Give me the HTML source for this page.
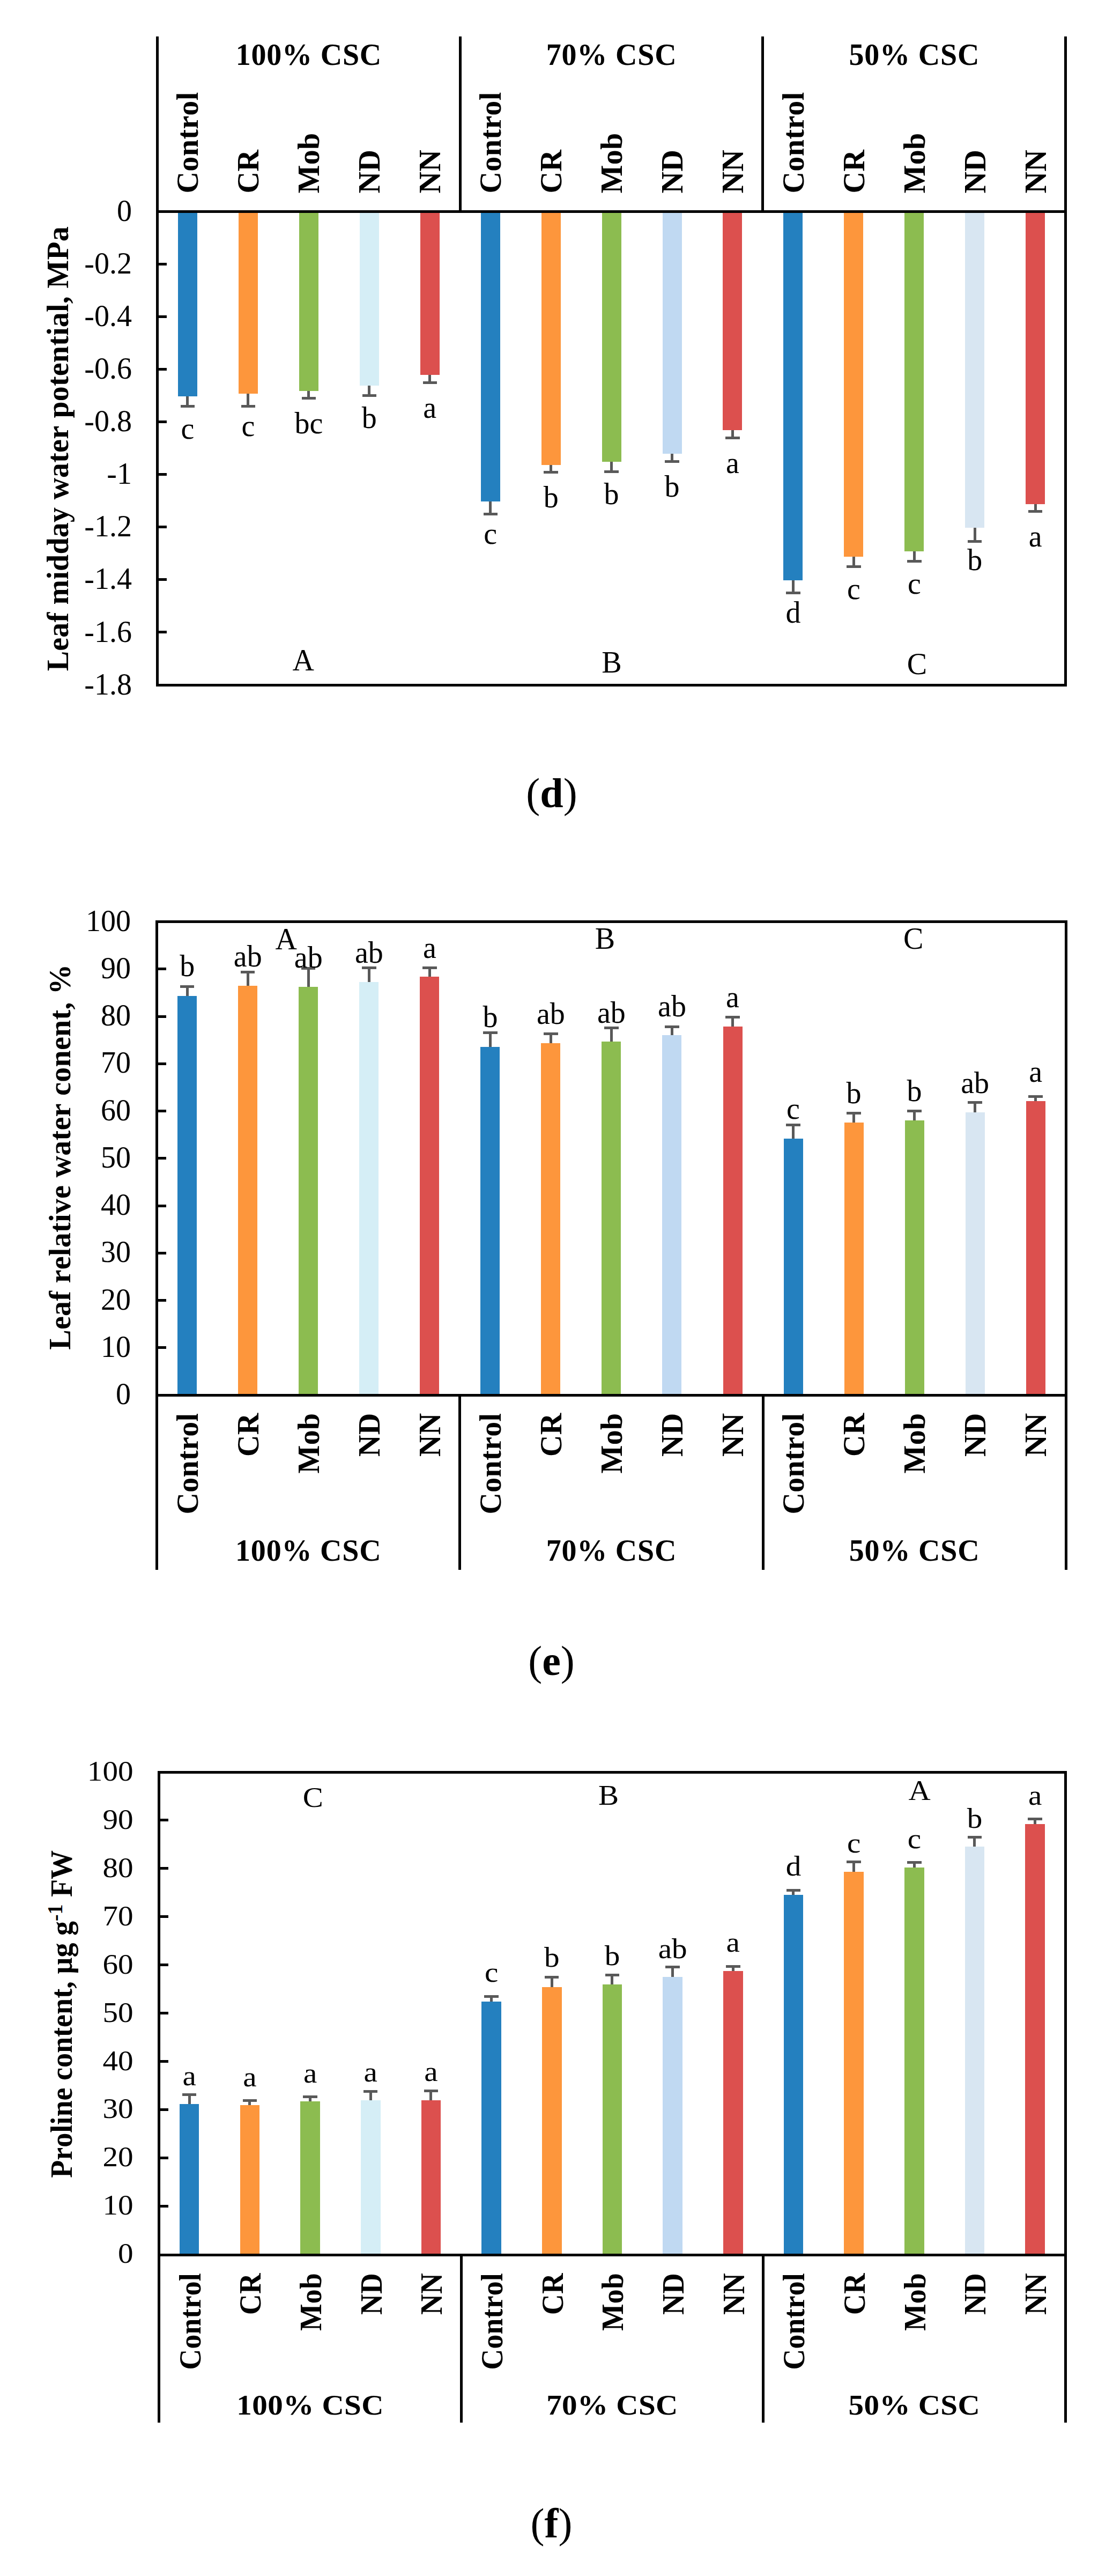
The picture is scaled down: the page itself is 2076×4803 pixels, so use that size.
<!DOCTYPE html>
<html lang="en">
<head>
<meta charset="utf-8">
<title>Figure panels d-f</title>
<style>
html,body{margin:0;padding:0;background:#fff;}
body{width:2076px;height:4803px;overflow:hidden;}
svg{display:block;}
svg line,svg rect{shape-rendering:crispEdges;}
svg text{font-kerning:none;font-variant-ligatures:none;font-family:"Liberation Serif",serif;fill:#000;}
</style>
</head>
<body>
<svg width="2076" height="4803" viewBox="0 0 2076 4803">
<rect x="0" y="0" width="2076" height="4803" fill="#ffffff"/>
<g>
<rect x="331.97" y="394.5" width="36" height="344.09" fill="#2480BF"/>
<line x1="349.97" y1="738.59" x2="349.97" y2="757.31" stroke="#595959" stroke-width="5" stroke-linecap="butt"/>
<line x1="336.77" y1="757.31" x2="363.17" y2="757.31" stroke="#595959" stroke-width="5" stroke-linecap="butt"/>
<text x="349.97" y="817.89" text-anchor="middle" font-size="56">c</text>
<rect x="444.92" y="394.5" width="36" height="339.19" fill="#FD963C"/>
<line x1="462.92" y1="733.69" x2="462.92" y2="757.31" stroke="#595959" stroke-width="5" stroke-linecap="butt"/>
<line x1="449.72" y1="757.31" x2="476.12" y2="757.31" stroke="#595959" stroke-width="5" stroke-linecap="butt"/>
<text x="462.92" y="812.99" text-anchor="middle" font-size="56">c</text>
<rect x="557.87" y="394.5" width="36" height="334.29" fill="#8CBC50"/>
<line x1="575.87" y1="728.79" x2="575.87" y2="742.6" stroke="#595959" stroke-width="5" stroke-linecap="butt"/>
<line x1="562.67" y1="742.6" x2="589.07" y2="742.6" stroke="#595959" stroke-width="5" stroke-linecap="butt"/>
<text x="575.87" y="808.09" text-anchor="middle" font-size="56">bc</text>
<rect x="670.81" y="394.5" width="36" height="324.48" fill="#D5EEF6"/>
<line x1="688.81" y1="718.98" x2="688.81" y2="737.69" stroke="#595959" stroke-width="5" stroke-linecap="butt"/>
<line x1="675.61" y1="737.69" x2="702.01" y2="737.69" stroke="#595959" stroke-width="5" stroke-linecap="butt"/>
<text x="688.81" y="798.28" text-anchor="middle" font-size="56">b</text>
<rect x="783.76" y="394.5" width="36" height="304.87" fill="#DC504E"/>
<line x1="801.76" y1="699.37" x2="801.76" y2="713.18" stroke="#595959" stroke-width="5" stroke-linecap="butt"/>
<line x1="788.56" y1="713.18" x2="814.96" y2="713.18" stroke="#595959" stroke-width="5" stroke-linecap="butt"/>
<text x="801.76" y="778.67" text-anchor="middle" font-size="56">a</text>
<rect x="896.71" y="394.5" width="36" height="540.21" fill="#2480BF"/>
<line x1="914.71" y1="934.71" x2="914.71" y2="958.32" stroke="#595959" stroke-width="5" stroke-linecap="butt"/>
<line x1="901.51" y1="958.32" x2="927.91" y2="958.32" stroke="#595959" stroke-width="5" stroke-linecap="butt"/>
<text x="914.71" y="1014.01" text-anchor="middle" font-size="56">c</text>
<rect x="1009.65" y="394.5" width="36" height="472.55" fill="#FD963C"/>
<line x1="1027.65" y1="867.05" x2="1027.65" y2="880.86" stroke="#595959" stroke-width="5" stroke-linecap="butt"/>
<line x1="1014.45" y1="880.86" x2="1040.85" y2="880.86" stroke="#595959" stroke-width="5" stroke-linecap="butt"/>
<text x="1027.65" y="946.35" text-anchor="middle" font-size="56">b</text>
<rect x="1122.6" y="394.5" width="36" height="466.66" fill="#8CBC50"/>
<line x1="1140.6" y1="861.16" x2="1140.6" y2="879.88" stroke="#595959" stroke-width="5" stroke-linecap="butt"/>
<line x1="1127.4" y1="879.88" x2="1153.8" y2="879.88" stroke="#595959" stroke-width="5" stroke-linecap="butt"/>
<text x="1140.6" y="940.46" text-anchor="middle" font-size="56">b</text>
<rect x="1235.55" y="394.5" width="36" height="451.96" fill="#C0D9F2"/>
<line x1="1253.55" y1="846.46" x2="1253.55" y2="860.26" stroke="#595959" stroke-width="5" stroke-linecap="butt"/>
<line x1="1240.35" y1="860.26" x2="1266.75" y2="860.26" stroke="#595959" stroke-width="5" stroke-linecap="butt"/>
<text x="1253.55" y="925.76" text-anchor="middle" font-size="56">b</text>
<rect x="1348.49" y="394.5" width="36" height="407.83" fill="#DC504E"/>
<line x1="1366.49" y1="802.33" x2="1366.49" y2="816.14" stroke="#595959" stroke-width="5" stroke-linecap="butt"/>
<line x1="1353.29" y1="816.14" x2="1379.69" y2="816.14" stroke="#595959" stroke-width="5" stroke-linecap="butt"/>
<text x="1366.49" y="881.63" text-anchor="middle" font-size="56">a</text>
<rect x="1461.44" y="394.5" width="36" height="687.29" fill="#2480BF"/>
<line x1="1479.44" y1="1081.79" x2="1479.44" y2="1105.4" stroke="#595959" stroke-width="5" stroke-linecap="butt"/>
<line x1="1466.24" y1="1105.4" x2="1492.64" y2="1105.4" stroke="#595959" stroke-width="5" stroke-linecap="butt"/>
<text x="1479.44" y="1161.09" text-anchor="middle" font-size="56">d</text>
<rect x="1574.39" y="394.5" width="36" height="643.16" fill="#FD963C"/>
<line x1="1592.39" y1="1037.66" x2="1592.39" y2="1056.38" stroke="#595959" stroke-width="5" stroke-linecap="butt"/>
<line x1="1579.19" y1="1056.38" x2="1605.59" y2="1056.38" stroke="#595959" stroke-width="5" stroke-linecap="butt"/>
<text x="1592.39" y="1116.96" text-anchor="middle" font-size="56">c</text>
<rect x="1687.33" y="394.5" width="36" height="633.36" fill="#8CBC50"/>
<line x1="1705.33" y1="1027.86" x2="1705.33" y2="1046.57" stroke="#595959" stroke-width="5" stroke-linecap="butt"/>
<line x1="1692.13" y1="1046.57" x2="1718.53" y2="1046.57" stroke="#595959" stroke-width="5" stroke-linecap="butt"/>
<text x="1705.33" y="1107.16" text-anchor="middle" font-size="56">c</text>
<rect x="1800.28" y="394.5" width="36" height="589.23" fill="#D8E6F2"/>
<line x1="1818.28" y1="983.73" x2="1818.28" y2="1009.8" stroke="#595959" stroke-width="5" stroke-linecap="butt"/>
<line x1="1805.08" y1="1009.8" x2="1831.48" y2="1009.8" stroke="#595959" stroke-width="5" stroke-linecap="butt"/>
<text x="1818.28" y="1063.03" text-anchor="middle" font-size="56">b</text>
<rect x="1913.23" y="394.5" width="36" height="545.11" fill="#DC504E"/>
<line x1="1931.23" y1="939.61" x2="1931.23" y2="953.42" stroke="#595959" stroke-width="5" stroke-linecap="butt"/>
<line x1="1918.03" y1="953.42" x2="1944.43" y2="953.42" stroke="#595959" stroke-width="5" stroke-linecap="butt"/>
<text x="1931.23" y="1018.91" text-anchor="middle" font-size="56">a</text>
</g>
<g>
<line x1="293.5" y1="68" x2="293.5" y2="1279.5" stroke="#000" stroke-width="5" stroke-linecap="butt"/>
<line x1="1987.7" y1="68" x2="1987.7" y2="1279.5" stroke="#000" stroke-width="5" stroke-linecap="butt"/>
<line x1="293.5" y1="1277" x2="1987.7" y2="1277" stroke="#000" stroke-width="5" stroke-linecap="butt"/>
<line x1="293.5" y1="394.5" x2="1987.7" y2="394.5" stroke="#000" stroke-width="5" stroke-linecap="butt"/>
<line x1="858.23" y1="68" x2="858.23" y2="394.5" stroke="#000" stroke-width="5" stroke-linecap="butt"/>
<line x1="1422.97" y1="68" x2="1422.97" y2="394.5" stroke="#000" stroke-width="5" stroke-linecap="butt"/>
<text x="246" y="412.1" text-anchor="end" font-size="56">0</text>
<line x1="293.5" y1="492.56" x2="311" y2="492.56" stroke="#000" stroke-width="5" stroke-linecap="butt"/>
<text x="246" y="510.16" text-anchor="end" font-size="56">-0.2</text>
<line x1="293.5" y1="590.61" x2="311" y2="590.61" stroke="#000" stroke-width="5" stroke-linecap="butt"/>
<text x="246" y="608.21" text-anchor="end" font-size="56">-0.4</text>
<line x1="293.5" y1="688.67" x2="311" y2="688.67" stroke="#000" stroke-width="5" stroke-linecap="butt"/>
<text x="246" y="706.27" text-anchor="end" font-size="56">-0.6</text>
<line x1="293.5" y1="786.72" x2="311" y2="786.72" stroke="#000" stroke-width="5" stroke-linecap="butt"/>
<text x="246" y="804.32" text-anchor="end" font-size="56">-0.8</text>
<line x1="293.5" y1="884.78" x2="311" y2="884.78" stroke="#000" stroke-width="5" stroke-linecap="butt"/>
<text x="246" y="902.38" text-anchor="end" font-size="56">-1</text>
<line x1="293.5" y1="982.83" x2="311" y2="982.83" stroke="#000" stroke-width="5" stroke-linecap="butt"/>
<text x="246" y="1000.43" text-anchor="end" font-size="56">-1.2</text>
<line x1="293.5" y1="1080.89" x2="311" y2="1080.89" stroke="#000" stroke-width="5" stroke-linecap="butt"/>
<text x="246" y="1098.49" text-anchor="end" font-size="56">-1.4</text>
<line x1="293.5" y1="1178.94" x2="311" y2="1178.94" stroke="#000" stroke-width="5" stroke-linecap="butt"/>
<text x="246" y="1196.54" text-anchor="end" font-size="56">-1.6</text>
<text x="246" y="1294.6" text-anchor="end" font-size="56">-1.8</text>
</g>
<g>
<text transform="translate(369.27 360.5) rotate(-90) scale(1.0000 1.0000)" text-anchor="start" font-size="56" font-weight="bold" letter-spacing="0.35">Control</text>
<text transform="translate(482.22 360.5) rotate(-90) scale(1.0000 1.0000)" text-anchor="start" font-size="56" font-weight="bold" letter-spacing="0.35">CR</text>
<text transform="translate(595.17 360.5) rotate(-90) scale(1.0000 1.0000)" text-anchor="start" font-size="56" font-weight="bold" letter-spacing="0.35">Mob</text>
<text transform="translate(708.11 360.5) rotate(-90) scale(1.0000 1.0000)" text-anchor="start" font-size="56" font-weight="bold" letter-spacing="0.35">ND</text>
<text transform="translate(821.06 360.5) rotate(-90) scale(1.0000 1.0000)" text-anchor="start" font-size="56" font-weight="bold" letter-spacing="0.35">NN</text>
<text x="575.87" y="120.5" text-anchor="middle" font-size="56" font-weight="bold" letter-spacing="0.8">100% CSC</text>
<text transform="translate(934.01 360.5) rotate(-90) scale(1.0000 1.0000)" text-anchor="start" font-size="56" font-weight="bold" letter-spacing="0.35">Control</text>
<text transform="translate(1046.95 360.5) rotate(-90) scale(1.0000 1.0000)" text-anchor="start" font-size="56" font-weight="bold" letter-spacing="0.35">CR</text>
<text transform="translate(1159.9 360.5) rotate(-90) scale(1.0000 1.0000)" text-anchor="start" font-size="56" font-weight="bold" letter-spacing="0.35">Mob</text>
<text transform="translate(1272.85 360.5) rotate(-90) scale(1.0000 1.0000)" text-anchor="start" font-size="56" font-weight="bold" letter-spacing="0.35">ND</text>
<text transform="translate(1385.79 360.5) rotate(-90) scale(1.0000 1.0000)" text-anchor="start" font-size="56" font-weight="bold" letter-spacing="0.35">NN</text>
<text x="1140.6" y="120.5" text-anchor="middle" font-size="56" font-weight="bold" letter-spacing="0.8">70% CSC</text>
<text transform="translate(1498.74 360.5) rotate(-90) scale(1.0000 1.0000)" text-anchor="start" font-size="56" font-weight="bold" letter-spacing="0.35">Control</text>
<text transform="translate(1611.69 360.5) rotate(-90) scale(1.0000 1.0000)" text-anchor="start" font-size="56" font-weight="bold" letter-spacing="0.35">CR</text>
<text transform="translate(1724.63 360.5) rotate(-90) scale(1.0000 1.0000)" text-anchor="start" font-size="56" font-weight="bold" letter-spacing="0.35">Mob</text>
<text transform="translate(1837.58 360.5) rotate(-90) scale(1.0000 1.0000)" text-anchor="start" font-size="56" font-weight="bold" letter-spacing="0.35">ND</text>
<text transform="translate(1950.53 360.5) rotate(-90) scale(1.0000 1.0000)" text-anchor="start" font-size="56" font-weight="bold" letter-spacing="0.35">NN</text>
<text x="1705.33" y="120.5" text-anchor="middle" font-size="56" font-weight="bold" letter-spacing="0.8">50% CSC</text>
</g>
<text x="565.8" y="1250.3" text-anchor="middle" font-size="56">A</text>
<text x="1141" y="1253.6" text-anchor="middle" font-size="56">B</text>
<text x="1710.5" y="1257.4" text-anchor="middle" font-size="56">C</text>
<text transform="translate(127.4 836.75) rotate(-90) scale(1.0000 1.0000)" text-anchor="middle" font-size="56" font-weight="bold" letter-spacing="0.2">Leaf midday water potential, MPa</text>
<g>
<rect x="331.22" y="1857.05" width="36" height="743.95" fill="#2480BF"/>
<line x1="349.22" y1="1857.05" x2="349.22" y2="1839.4" stroke="#595959" stroke-width="5" stroke-linecap="butt"/>
<line x1="336.02" y1="1839.4" x2="362.42" y2="1839.4" stroke="#595959" stroke-width="5" stroke-linecap="butt"/>
<text x="349.22" y="1820.1" text-anchor="middle" font-size="56">b</text>
<rect x="444.25" y="1837.64" width="36" height="763.36" fill="#FD963C"/>
<line x1="462.25" y1="1837.64" x2="462.25" y2="1812.05" stroke="#595959" stroke-width="5" stroke-linecap="butt"/>
<line x1="449.05" y1="1812.05" x2="475.45" y2="1812.05" stroke="#595959" stroke-width="5" stroke-linecap="butt"/>
<text x="462.25" y="1802.3" text-anchor="middle" font-size="56">ab</text>
<rect x="557.28" y="1840.29" width="36" height="760.71" fill="#8CBC50"/>
<line x1="575.28" y1="1840.29" x2="575.28" y2="1805.87" stroke="#595959" stroke-width="5" stroke-linecap="butt"/>
<line x1="562.08" y1="1805.87" x2="588.48" y2="1805.87" stroke="#595959" stroke-width="5" stroke-linecap="butt"/>
<text x="575.28" y="1804.3" text-anchor="middle" font-size="56">ab</text>
<rect x="670.32" y="1831.02" width="36" height="769.98" fill="#D5EEF6"/>
<line x1="688.32" y1="1831.02" x2="688.32" y2="1804.54" stroke="#595959" stroke-width="5" stroke-linecap="butt"/>
<line x1="675.12" y1="1804.54" x2="701.52" y2="1804.54" stroke="#595959" stroke-width="5" stroke-linecap="butt"/>
<text x="688.32" y="1795.3" text-anchor="middle" font-size="56">ab</text>
<rect x="783.35" y="1820.87" width="36" height="780.13" fill="#DC504E"/>
<line x1="801.35" y1="1820.87" x2="801.35" y2="1804.1" stroke="#595959" stroke-width="5" stroke-linecap="butt"/>
<line x1="788.15" y1="1804.1" x2="814.55" y2="1804.1" stroke="#595959" stroke-width="5" stroke-linecap="butt"/>
<text x="801.35" y="1785.9" text-anchor="middle" font-size="56">a</text>
<rect x="896.38" y="1952.36" width="36" height="648.64" fill="#2480BF"/>
<line x1="914.38" y1="1952.36" x2="914.38" y2="1925.89" stroke="#595959" stroke-width="5" stroke-linecap="butt"/>
<line x1="901.18" y1="1925.89" x2="927.58" y2="1925.89" stroke="#595959" stroke-width="5" stroke-linecap="butt"/>
<text x="914.38" y="1914.9" text-anchor="middle" font-size="56">b</text>
<rect x="1009.42" y="1945.3" width="36" height="655.7" fill="#FD963C"/>
<line x1="1027.42" y1="1945.3" x2="1027.42" y2="1927.65" stroke="#595959" stroke-width="5" stroke-linecap="butt"/>
<line x1="1014.22" y1="1927.65" x2="1040.62" y2="1927.65" stroke="#595959" stroke-width="5" stroke-linecap="butt"/>
<text x="1027.42" y="1908.8" text-anchor="middle" font-size="56">ab</text>
<rect x="1122.45" y="1941.77" width="36" height="659.23" fill="#8CBC50"/>
<line x1="1140.45" y1="1941.77" x2="1140.45" y2="1916.18" stroke="#595959" stroke-width="5" stroke-linecap="butt"/>
<line x1="1127.25" y1="1916.18" x2="1153.65" y2="1916.18" stroke="#595959" stroke-width="5" stroke-linecap="butt"/>
<text x="1140.45" y="1906.7" text-anchor="middle" font-size="56">ab</text>
<rect x="1235.48" y="1930.3" width="36" height="670.7" fill="#C0D9F2"/>
<line x1="1253.48" y1="1930.3" x2="1253.48" y2="1914.42" stroke="#595959" stroke-width="5" stroke-linecap="butt"/>
<line x1="1240.28" y1="1914.42" x2="1266.68" y2="1914.42" stroke="#595959" stroke-width="5" stroke-linecap="butt"/>
<text x="1253.48" y="1895.4" text-anchor="middle" font-size="56">ab</text>
<rect x="1348.52" y="1913.53" width="36" height="687.47" fill="#DC504E"/>
<line x1="1366.52" y1="1913.53" x2="1366.52" y2="1896.77" stroke="#595959" stroke-width="5" stroke-linecap="butt"/>
<line x1="1353.32" y1="1896.77" x2="1379.72" y2="1896.77" stroke="#595959" stroke-width="5" stroke-linecap="butt"/>
<text x="1366.52" y="1877.6" text-anchor="middle" font-size="56">a</text>
<rect x="1461.55" y="2122.68" width="36" height="478.32" fill="#2480BF"/>
<line x1="1479.55" y1="2122.68" x2="1479.55" y2="2097.97" stroke="#595959" stroke-width="5" stroke-linecap="butt"/>
<line x1="1466.35" y1="2097.97" x2="1492.75" y2="2097.97" stroke="#595959" stroke-width="5" stroke-linecap="butt"/>
<text x="1479.55" y="2085.7" text-anchor="middle" font-size="56">c</text>
<rect x="1574.58" y="2092.68" width="36" height="508.32" fill="#FD963C"/>
<line x1="1592.58" y1="2092.68" x2="1592.58" y2="2075.91" stroke="#595959" stroke-width="5" stroke-linecap="butt"/>
<line x1="1579.38" y1="2075.91" x2="1605.78" y2="2075.91" stroke="#595959" stroke-width="5" stroke-linecap="butt"/>
<text x="1592.58" y="2057.1" text-anchor="middle" font-size="56">b</text>
<rect x="1687.62" y="2088.71" width="36" height="512.29" fill="#8CBC50"/>
<line x1="1705.62" y1="2088.71" x2="1705.62" y2="2071.94" stroke="#595959" stroke-width="5" stroke-linecap="butt"/>
<line x1="1692.42" y1="2071.94" x2="1718.82" y2="2071.94" stroke="#595959" stroke-width="5" stroke-linecap="butt"/>
<text x="1705.62" y="2052.8" text-anchor="middle" font-size="56">b</text>
<rect x="1800.65" y="2073.62" width="36" height="527.38" fill="#D8E6F2"/>
<line x1="1818.65" y1="2073.62" x2="1818.65" y2="2055.97" stroke="#595959" stroke-width="5" stroke-linecap="butt"/>
<line x1="1805.45" y1="2055.97" x2="1831.85" y2="2055.97" stroke="#595959" stroke-width="5" stroke-linecap="butt"/>
<text x="1818.65" y="2038.2" text-anchor="middle" font-size="56">ab</text>
<rect x="1913.68" y="2052.97" width="36" height="548.03" fill="#DC504E"/>
<line x1="1931.68" y1="2052.97" x2="1931.68" y2="2044.14" stroke="#595959" stroke-width="5" stroke-linecap="butt"/>
<line x1="1918.48" y1="2044.14" x2="1944.88" y2="2044.14" stroke="#595959" stroke-width="5" stroke-linecap="butt"/>
<text x="1931.68" y="2016.7" text-anchor="middle" font-size="56">a</text>
</g>
<g>
<line x1="292.7" y1="1716" x2="292.7" y2="2927" stroke="#000" stroke-width="5" stroke-linecap="butt"/>
<line x1="1988.2" y1="1716" x2="1988.2" y2="2927" stroke="#000" stroke-width="5" stroke-linecap="butt"/>
<line x1="292.7" y1="1718.5" x2="1988.2" y2="1718.5" stroke="#000" stroke-width="5" stroke-linecap="butt"/>
<line x1="292.7" y1="2601" x2="1988.2" y2="2601" stroke="#000" stroke-width="5" stroke-linecap="butt"/>
<line x1="857.87" y1="2601" x2="857.87" y2="2927" stroke="#000" stroke-width="5" stroke-linecap="butt"/>
<line x1="1423.03" y1="2601" x2="1423.03" y2="2927" stroke="#000" stroke-width="5" stroke-linecap="butt"/>
<text x="244" y="2618" text-anchor="end" font-size="56">0</text>
<line x1="292.7" y1="2512.75" x2="310.2" y2="2512.75" stroke="#000" stroke-width="5" stroke-linecap="butt"/>
<text x="244" y="2529.75" text-anchor="end" font-size="56">10</text>
<line x1="292.7" y1="2424.5" x2="310.2" y2="2424.5" stroke="#000" stroke-width="5" stroke-linecap="butt"/>
<text x="244" y="2441.5" text-anchor="end" font-size="56">20</text>
<line x1="292.7" y1="2336.25" x2="310.2" y2="2336.25" stroke="#000" stroke-width="5" stroke-linecap="butt"/>
<text x="244" y="2353.25" text-anchor="end" font-size="56">30</text>
<line x1="292.7" y1="2248" x2="310.2" y2="2248" stroke="#000" stroke-width="5" stroke-linecap="butt"/>
<text x="244" y="2265" text-anchor="end" font-size="56">40</text>
<line x1="292.7" y1="2159.75" x2="310.2" y2="2159.75" stroke="#000" stroke-width="5" stroke-linecap="butt"/>
<text x="244" y="2176.75" text-anchor="end" font-size="56">50</text>
<line x1="292.7" y1="2071.5" x2="310.2" y2="2071.5" stroke="#000" stroke-width="5" stroke-linecap="butt"/>
<text x="244" y="2088.5" text-anchor="end" font-size="56">60</text>
<line x1="292.7" y1="1983.25" x2="310.2" y2="1983.25" stroke="#000" stroke-width="5" stroke-linecap="butt"/>
<text x="244" y="2000.25" text-anchor="end" font-size="56">70</text>
<line x1="292.7" y1="1895" x2="310.2" y2="1895" stroke="#000" stroke-width="5" stroke-linecap="butt"/>
<text x="244" y="1912" text-anchor="end" font-size="56">80</text>
<line x1="292.7" y1="1806.75" x2="310.2" y2="1806.75" stroke="#000" stroke-width="5" stroke-linecap="butt"/>
<text x="244" y="1823.75" text-anchor="end" font-size="56">90</text>
<text x="244" y="1735.5" text-anchor="end" font-size="56">100</text>
</g>
<g>
<text transform="translate(368.52 2634.5) rotate(-90) scale(1.0000 1.0000)" text-anchor="end" font-size="56" font-weight="bold" letter-spacing="0.35">Control</text>
<text transform="translate(481.55 2634.5) rotate(-90) scale(1.0000 1.0000)" text-anchor="end" font-size="56" font-weight="bold" letter-spacing="0.35">CR</text>
<text transform="translate(594.58 2634.5) rotate(-90) scale(1.0000 1.0000)" text-anchor="end" font-size="56" font-weight="bold" letter-spacing="0.35">Mob</text>
<text transform="translate(707.62 2634.5) rotate(-90) scale(1.0000 1.0000)" text-anchor="end" font-size="56" font-weight="bold" letter-spacing="0.35">ND</text>
<text transform="translate(820.65 2634.5) rotate(-90) scale(1.0000 1.0000)" text-anchor="end" font-size="56" font-weight="bold" letter-spacing="0.35">NN</text>
<text x="575.28" y="2910" text-anchor="middle" font-size="56" font-weight="bold" letter-spacing="0.8">100% CSC</text>
<text transform="translate(933.68 2634.5) rotate(-90) scale(1.0000 1.0000)" text-anchor="end" font-size="56" font-weight="bold" letter-spacing="0.35">Control</text>
<text transform="translate(1046.72 2634.5) rotate(-90) scale(1.0000 1.0000)" text-anchor="end" font-size="56" font-weight="bold" letter-spacing="0.35">CR</text>
<text transform="translate(1159.75 2634.5) rotate(-90) scale(1.0000 1.0000)" text-anchor="end" font-size="56" font-weight="bold" letter-spacing="0.35">Mob</text>
<text transform="translate(1272.78 2634.5) rotate(-90) scale(1.0000 1.0000)" text-anchor="end" font-size="56" font-weight="bold" letter-spacing="0.35">ND</text>
<text transform="translate(1385.82 2634.5) rotate(-90) scale(1.0000 1.0000)" text-anchor="end" font-size="56" font-weight="bold" letter-spacing="0.35">NN</text>
<text x="1140.45" y="2910" text-anchor="middle" font-size="56" font-weight="bold" letter-spacing="0.8">70% CSC</text>
<text transform="translate(1498.85 2634.5) rotate(-90) scale(1.0000 1.0000)" text-anchor="end" font-size="56" font-weight="bold" letter-spacing="0.35">Control</text>
<text transform="translate(1611.88 2634.5) rotate(-90) scale(1.0000 1.0000)" text-anchor="end" font-size="56" font-weight="bold" letter-spacing="0.35">CR</text>
<text transform="translate(1724.92 2634.5) rotate(-90) scale(1.0000 1.0000)" text-anchor="end" font-size="56" font-weight="bold" letter-spacing="0.35">Mob</text>
<text transform="translate(1837.95 2634.5) rotate(-90) scale(1.0000 1.0000)" text-anchor="end" font-size="56" font-weight="bold" letter-spacing="0.35">ND</text>
<text transform="translate(1950.98 2634.5) rotate(-90) scale(1.0000 1.0000)" text-anchor="end" font-size="56" font-weight="bold" letter-spacing="0.35">NN</text>
<text x="1705.62" y="2910" text-anchor="middle" font-size="56" font-weight="bold" letter-spacing="0.8">50% CSC</text>
</g>
<text x="533.7" y="1769.5" text-anchor="middle" font-size="56">A</text>
<text x="1128.5" y="1769" text-anchor="middle" font-size="56">B</text>
<text x="1703.8" y="1769" text-anchor="middle" font-size="56">C</text>
<text transform="translate(131 2157.25) rotate(-90) scale(1.0000 1.0000)" text-anchor="middle" font-size="56" font-weight="bold" letter-spacing="0.29">Leaf relative water conent, %</text>
<g>
<rect x="334.99" y="3923.49" width="36.5" height="280.71" fill="#2480BF"/>
<line x1="353.24" y1="3923.49" x2="353.24" y2="3905.5" stroke="#595959" stroke-width="5" stroke-linecap="butt"/>
<line x1="340.04" y1="3905.5" x2="366.44" y2="3905.5" stroke="#595959" stroke-width="5" stroke-linecap="butt"/>
<text transform="translate(353.24 3888.1) scale(1.0200 0.9600)" text-anchor="middle" font-size="56">a</text>
<rect x="447.66" y="3925.29" width="36.5" height="278.91" fill="#FD963C"/>
<line x1="465.91" y1="3925.29" x2="465.91" y2="3916.3" stroke="#595959" stroke-width="5" stroke-linecap="butt"/>
<line x1="452.71" y1="3916.3" x2="479.11" y2="3916.3" stroke="#595959" stroke-width="5" stroke-linecap="butt"/>
<text transform="translate(465.91 3890.2) scale(1.0200 0.9600)" text-anchor="middle" font-size="56">a</text>
<rect x="560.33" y="3918.1" width="36.5" height="286.1" fill="#8CBC50"/>
<line x1="578.58" y1="3918.1" x2="578.58" y2="3909.1" stroke="#595959" stroke-width="5" stroke-linecap="butt"/>
<line x1="565.38" y1="3909.1" x2="591.78" y2="3909.1" stroke="#595959" stroke-width="5" stroke-linecap="butt"/>
<text transform="translate(578.58 3882.7) scale(1.0200 0.9600)" text-anchor="middle" font-size="56">a</text>
<rect x="673.01" y="3916.3" width="36.5" height="287.9" fill="#D5EEF6"/>
<line x1="691.26" y1="3916.3" x2="691.26" y2="3899.2" stroke="#595959" stroke-width="5" stroke-linecap="butt"/>
<line x1="678.06" y1="3899.2" x2="704.46" y2="3899.2" stroke="#595959" stroke-width="5" stroke-linecap="butt"/>
<text transform="translate(691.26 3881.1) scale(1.0200 0.9600)" text-anchor="middle" font-size="56">a</text>
<rect x="785.68" y="3916.3" width="36.5" height="287.9" fill="#DC504E"/>
<line x1="803.93" y1="3916.3" x2="803.93" y2="3898.3" stroke="#595959" stroke-width="5" stroke-linecap="butt"/>
<line x1="790.73" y1="3898.3" x2="817.13" y2="3898.3" stroke="#595959" stroke-width="5" stroke-linecap="butt"/>
<text transform="translate(803.93 3880) scale(1.0200 0.9600)" text-anchor="middle" font-size="56">a</text>
<rect x="898.35" y="3731.86" width="36.5" height="472.34" fill="#2480BF"/>
<line x1="916.6" y1="3731.86" x2="916.6" y2="3722.86" stroke="#595959" stroke-width="5" stroke-linecap="butt"/>
<line x1="903.4" y1="3722.86" x2="929.8" y2="3722.86" stroke="#595959" stroke-width="5" stroke-linecap="butt"/>
<text transform="translate(916.6 3695.1) scale(1.0200 0.9600)" text-anchor="middle" font-size="56">c</text>
<rect x="1011.03" y="3704.87" width="36.5" height="499.33" fill="#FD963C"/>
<line x1="1029.28" y1="3704.87" x2="1029.28" y2="3686.87" stroke="#595959" stroke-width="5" stroke-linecap="butt"/>
<line x1="1016.08" y1="3686.87" x2="1042.48" y2="3686.87" stroke="#595959" stroke-width="5" stroke-linecap="butt"/>
<text transform="translate(1029.28 3667) scale(1.0200 0.9600)" text-anchor="middle" font-size="56">b</text>
<rect x="1123.7" y="3700.37" width="36.5" height="503.83" fill="#8CBC50"/>
<line x1="1141.95" y1="3700.37" x2="1141.95" y2="3682.37" stroke="#595959" stroke-width="5" stroke-linecap="butt"/>
<line x1="1128.75" y1="3682.37" x2="1155.15" y2="3682.37" stroke="#595959" stroke-width="5" stroke-linecap="butt"/>
<text transform="translate(1141.95 3663.8) scale(1.0200 0.9600)" text-anchor="middle" font-size="56">b</text>
<rect x="1236.37" y="3685.97" width="36.5" height="518.23" fill="#C0D9F2"/>
<line x1="1254.62" y1="3685.97" x2="1254.62" y2="3667.98" stroke="#595959" stroke-width="5" stroke-linecap="butt"/>
<line x1="1241.42" y1="3667.98" x2="1267.82" y2="3667.98" stroke="#595959" stroke-width="5" stroke-linecap="butt"/>
<text transform="translate(1254.62 3650.9) scale(1.0200 0.9600)" text-anchor="middle" font-size="56">ab</text>
<rect x="1349.05" y="3675.18" width="36.5" height="529.02" fill="#DC504E"/>
<line x1="1367.3" y1="3675.18" x2="1367.3" y2="3666.18" stroke="#595959" stroke-width="5" stroke-linecap="butt"/>
<line x1="1354.1" y1="3666.18" x2="1380.5" y2="3666.18" stroke="#595959" stroke-width="5" stroke-linecap="butt"/>
<text transform="translate(1367.3 3639) scale(1.0200 0.9600)" text-anchor="middle" font-size="56">a</text>
<rect x="1461.72" y="3533.02" width="36.5" height="671.18" fill="#2480BF"/>
<line x1="1479.97" y1="3533.02" x2="1479.97" y2="3524.03" stroke="#595959" stroke-width="5" stroke-linecap="butt"/>
<line x1="1466.77" y1="3524.03" x2="1493.17" y2="3524.03" stroke="#595959" stroke-width="5" stroke-linecap="butt"/>
<text transform="translate(1479.97 3497.3) scale(1.0200 0.9600)" text-anchor="middle" font-size="56">d</text>
<rect x="1574.39" y="3489.84" width="36.5" height="714.36" fill="#FD963C"/>
<line x1="1592.64" y1="3489.84" x2="1592.64" y2="3471.84" stroke="#595959" stroke-width="5" stroke-linecap="butt"/>
<line x1="1579.44" y1="3471.84" x2="1605.84" y2="3471.84" stroke="#595959" stroke-width="5" stroke-linecap="butt"/>
<text transform="translate(1592.64 3454.1) scale(1.0200 0.9600)" text-anchor="middle" font-size="56">c</text>
<rect x="1687.07" y="3481.74" width="36.5" height="722.46" fill="#8CBC50"/>
<line x1="1705.32" y1="3481.74" x2="1705.32" y2="3472.74" stroke="#595959" stroke-width="5" stroke-linecap="butt"/>
<line x1="1692.12" y1="3472.74" x2="1718.52" y2="3472.74" stroke="#595959" stroke-width="5" stroke-linecap="butt"/>
<text transform="translate(1705.32 3445.5) scale(1.0200 0.9600)" text-anchor="middle" font-size="56">c</text>
<rect x="1799.74" y="3443.05" width="36.5" height="761.15" fill="#D8E6F2"/>
<line x1="1817.99" y1="3443.05" x2="1817.99" y2="3425.06" stroke="#595959" stroke-width="5" stroke-linecap="butt"/>
<line x1="1804.79" y1="3425.06" x2="1831.19" y2="3425.06" stroke="#595959" stroke-width="5" stroke-linecap="butt"/>
<text transform="translate(1817.99 3407.8) scale(1.0200 0.9600)" text-anchor="middle" font-size="56">b</text>
<rect x="1912.41" y="3400.77" width="36.5" height="803.43" fill="#DC504E"/>
<line x1="1930.66" y1="3400.77" x2="1930.66" y2="3391.77" stroke="#595959" stroke-width="5" stroke-linecap="butt"/>
<line x1="1917.46" y1="3391.77" x2="1943.86" y2="3391.77" stroke="#595959" stroke-width="5" stroke-linecap="butt"/>
<text transform="translate(1930.66 3365.4) scale(1.0200 0.9600)" text-anchor="middle" font-size="56">a</text>
</g>
<g>
<line x1="296.9" y1="3302" x2="296.9" y2="4517" stroke="#000" stroke-width="5" stroke-linecap="butt"/>
<line x1="1987" y1="3302" x2="1987" y2="4517" stroke="#000" stroke-width="5" stroke-linecap="butt"/>
<line x1="296.9" y1="3304.5" x2="1987" y2="3304.5" stroke="#000" stroke-width="5" stroke-linecap="butt"/>
<line x1="296.9" y1="4204.2" x2="1987" y2="4204.2" stroke="#000" stroke-width="5" stroke-linecap="butt"/>
<line x1="860.27" y1="4204.2" x2="860.27" y2="4517" stroke="#000" stroke-width="5" stroke-linecap="butt"/>
<line x1="1423.63" y1="4204.2" x2="1423.63" y2="4517" stroke="#000" stroke-width="5" stroke-linecap="butt"/>
<text transform="translate(248.5 4219.4) scale(1.0200 0.9600)" text-anchor="end" font-size="56">0</text>
<line x1="296.9" y1="4113.63" x2="314.4" y2="4113.63" stroke="#000" stroke-width="5" stroke-linecap="butt"/>
<text transform="translate(248.5 4129.43) scale(1.0200 0.9600)" text-anchor="end" font-size="56">10</text>
<line x1="296.9" y1="4023.66" x2="314.4" y2="4023.66" stroke="#000" stroke-width="5" stroke-linecap="butt"/>
<text transform="translate(248.5 4039.46) scale(1.0200 0.9600)" text-anchor="end" font-size="56">20</text>
<line x1="296.9" y1="3933.69" x2="314.4" y2="3933.69" stroke="#000" stroke-width="5" stroke-linecap="butt"/>
<text transform="translate(248.5 3949.49) scale(1.0200 0.9600)" text-anchor="end" font-size="56">30</text>
<line x1="296.9" y1="3843.72" x2="314.4" y2="3843.72" stroke="#000" stroke-width="5" stroke-linecap="butt"/>
<text transform="translate(248.5 3859.52) scale(1.0200 0.9600)" text-anchor="end" font-size="56">40</text>
<line x1="296.9" y1="3753.75" x2="314.4" y2="3753.75" stroke="#000" stroke-width="5" stroke-linecap="butt"/>
<text transform="translate(248.5 3769.55) scale(1.0200 0.9600)" text-anchor="end" font-size="56">50</text>
<line x1="296.9" y1="3663.78" x2="314.4" y2="3663.78" stroke="#000" stroke-width="5" stroke-linecap="butt"/>
<text transform="translate(248.5 3679.58) scale(1.0200 0.9600)" text-anchor="end" font-size="56">60</text>
<line x1="296.9" y1="3573.81" x2="314.4" y2="3573.81" stroke="#000" stroke-width="5" stroke-linecap="butt"/>
<text transform="translate(248.5 3589.61) scale(1.0200 0.9600)" text-anchor="end" font-size="56">70</text>
<line x1="296.9" y1="3483.84" x2="314.4" y2="3483.84" stroke="#000" stroke-width="5" stroke-linecap="butt"/>
<text transform="translate(248.5 3499.64) scale(1.0200 0.9600)" text-anchor="end" font-size="56">80</text>
<line x1="296.9" y1="3393.87" x2="314.4" y2="3393.87" stroke="#000" stroke-width="5" stroke-linecap="butt"/>
<text transform="translate(248.5 3409.67) scale(1.0200 0.9600)" text-anchor="end" font-size="56">90</text>
<text transform="translate(248.5 3319.7) scale(1.0200 0.9600)" text-anchor="end" font-size="56">100</text>
</g>
<g>
<text transform="translate(373.64 4238) rotate(-90) scale(0.9550 1.0200)" text-anchor="end" font-size="56" font-weight="bold" letter-spacing="0.35">Control</text>
<text transform="translate(486.31 4238) rotate(-90) scale(0.9550 1.0200)" text-anchor="end" font-size="56" font-weight="bold" letter-spacing="0.35">CR</text>
<text transform="translate(598.98 4238) rotate(-90) scale(0.9550 1.0200)" text-anchor="end" font-size="56" font-weight="bold" letter-spacing="0.35">Mob</text>
<text transform="translate(711.66 4238) rotate(-90) scale(0.9550 1.0200)" text-anchor="end" font-size="56" font-weight="bold" letter-spacing="0.35">ND</text>
<text transform="translate(824.33 4238) rotate(-90) scale(0.9550 1.0200)" text-anchor="end" font-size="56" font-weight="bold" letter-spacing="0.35">NN</text>
<text transform="translate(578.58 4501.6) scale(1.0200 0.9600)" text-anchor="middle" font-size="56" font-weight="bold" letter-spacing="0.4">100% CSC</text>
<text transform="translate(937 4238) rotate(-90) scale(0.9550 1.0200)" text-anchor="end" font-size="56" font-weight="bold" letter-spacing="0.35">Control</text>
<text transform="translate(1049.68 4238) rotate(-90) scale(0.9550 1.0200)" text-anchor="end" font-size="56" font-weight="bold" letter-spacing="0.35">CR</text>
<text transform="translate(1162.35 4238) rotate(-90) scale(0.9550 1.0200)" text-anchor="end" font-size="56" font-weight="bold" letter-spacing="0.35">Mob</text>
<text transform="translate(1275.02 4238) rotate(-90) scale(0.9550 1.0200)" text-anchor="end" font-size="56" font-weight="bold" letter-spacing="0.35">ND</text>
<text transform="translate(1387.7 4238) rotate(-90) scale(0.9550 1.0200)" text-anchor="end" font-size="56" font-weight="bold" letter-spacing="0.35">NN</text>
<text transform="translate(1141.95 4501.6) scale(1.0200 0.9600)" text-anchor="middle" font-size="56" font-weight="bold" letter-spacing="0.4">70% CSC</text>
<text transform="translate(1500.37 4238) rotate(-90) scale(0.9550 1.0200)" text-anchor="end" font-size="56" font-weight="bold" letter-spacing="0.35">Control</text>
<text transform="translate(1613.04 4238) rotate(-90) scale(0.9550 1.0200)" text-anchor="end" font-size="56" font-weight="bold" letter-spacing="0.35">CR</text>
<text transform="translate(1725.72 4238) rotate(-90) scale(0.9550 1.0200)" text-anchor="end" font-size="56" font-weight="bold" letter-spacing="0.35">Mob</text>
<text transform="translate(1838.39 4238) rotate(-90) scale(0.9550 1.0200)" text-anchor="end" font-size="56" font-weight="bold" letter-spacing="0.35">ND</text>
<text transform="translate(1951.06 4238) rotate(-90) scale(0.9550 1.0200)" text-anchor="end" font-size="56" font-weight="bold" letter-spacing="0.35">NN</text>
<text transform="translate(1705.32 4501.6) scale(1.0200 0.9600)" text-anchor="middle" font-size="56" font-weight="bold" letter-spacing="0.4">50% CSC</text>
</g>
<text transform="translate(583.8 3369) scale(1.0200 0.9600)" text-anchor="middle" font-size="56">C</text>
<text transform="translate(1135 3365.2) scale(1.0200 0.9600)" text-anchor="middle" font-size="56">B</text>
<text transform="translate(1715 3355.5) scale(1.0200 0.9600)" text-anchor="middle" font-size="56">A</text>
<text transform="translate(133.8 3755.35) rotate(-90) scale(0.9660 1.0200)" text-anchor="middle" font-size="56" font-weight="bold">Proline content, µg g<tspan font-size="39" dy="-17">-1</tspan><tspan dy="17"> FW</tspan></text>
<text x="1029" y="1505.4" text-anchor="middle" font-size="78">(<tspan font-weight="bold">d</tspan>)</text>
<text x="1028.5" y="3122.5" text-anchor="middle" font-size="78">(<tspan font-weight="bold">e</tspan>)</text>
<text x="1028.4" y="4730.5" text-anchor="middle" font-size="78">(<tspan font-weight="bold">f</tspan>)</text>
</svg>
</body>
</html>
